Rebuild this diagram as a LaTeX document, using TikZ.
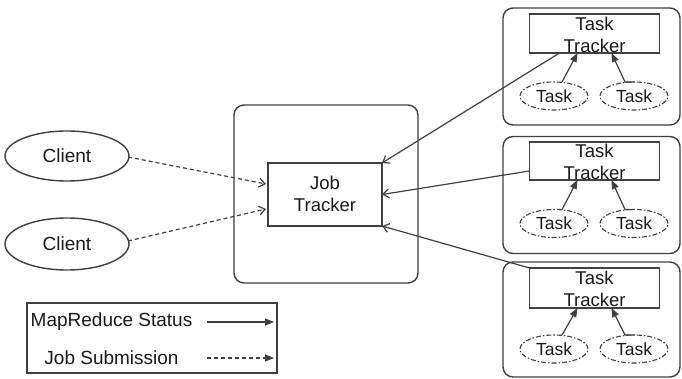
\documentclass[tikz,border=0pt]{standalone}
\usepackage{fontspec}
\setmainfont{Liberation Sans}
\usetikzlibrary{shapes.geometric,arrows.meta,calc}
\definecolor{ln}{HTML}{404040}
\definecolor{tx}{HTML}{1A1A1A}
\begin{document}
\begin{tikzpicture}[x=1pt,y=-1pt,
  every node/.style={text=tx, inner sep=0pt, outer sep=0pt},
  bigfont/.style={font=\fontsize{19}{22}\selectfont},
  trkfont/.style={font=\fontsize{18.5}{22}\selectfont, align=center},
  grp/.style={draw=ln, line width=1.4pt, rounded corners=10pt, rectangle},
  trkbox/.style={draw=ln, line width=1.4pt, rectangle},
  clientell/.style={draw=ln, line width=1.4pt, ellipse, minimum width=124pt, minimum height=50pt, bigfont},
  taskell/.style={draw=ln, line width=1.1pt, ellipse, dash pattern=on 5pt off 2pt on 1.5pt off 2pt,
     minimum width=68pt, minimum height=28pt, font=\fontsize{17.5}{20}\selectfont},
  status/.style={draw=ln, line width=1.2pt, -{Straight Barb[length=6pt,width=9pt]}},
  submit/.style={status, dash pattern=on 4pt off 3pt},
  taskarr/.style={draw=ln, line width=1.2pt, -{Triangle[length=9pt,width=7pt]}},
  legarr/.style={draw=ln, line width=1.2pt, -{Triangle[length=9pt,width=7pt]}},
]
\useasboundingbox (0,0) rectangle (682,379);

% Job tracker container
\node[grp, minimum width=184pt, minimum height=178pt] (jcont) at (326,194) {};
\node[trkbox, minimum width=114pt, minimum height=63pt] (jt) at (325,194.5) {};
\node[trkfont] (jtl) at (325,194) {Job\\Tracker};

% Clients
\node[clientell] (c1) at (67,156) {Client};
\node[clientell, minimum height=52pt] (c2) at (67,244) {Client};

% Task tracker groups
\node[grp, minimum width=177pt, minimum height=117pt] (g1) at (591.5,66.5) {};
\node[grp, minimum width=177pt, minimum height=117pt] (g2) at (591.5,195) {};
\node[grp, minimum width=177pt, minimum height=115pt] (g3) at (591.5,319.5) {};

\node[trkbox, minimum width=130pt, minimum height=39pt] (tt1) at (594.5,33.5) {};
\node[trkbox, minimum width=130pt, minimum height=38pt] (tt2) at (594.5,161) {};
\node[trkbox, minimum width=130pt, minimum height=40pt] (tt3) at (594.5,288) {};
\node[trkfont] (tt1l) at (594.5,35) {Task\\Tracker};
\node[trkfont] (tt2l) at (594.5,162) {Task\\Tracker};
\node[trkfont] (tt3l) at (594.5,289) {Task\\Tracker};

\node[taskell] (t1a) at (554,96) {Task};
\node[taskell] (t1b) at (634,96) {Task};
\node[taskell] (t2a) at (554,223.5) {Task};
\node[taskell] (t2b) at (634,223.5) {Task};
\node[taskell] (t3a) at (554,349) {Task};
\node[taskell] (t3b) at (634,349) {Task};

% Task -> Task tracker
\foreach \g in {1,2,3}{
  \draw[taskarr] ($(t\g a.north)+(8,0)$) -- ($(tt\g.south)+(-17,0)$);
  \draw[taskarr] (t\g b.north) -- ++(-9,0) -- ($(tt\g.south)+(17,0)$);
}

% Task trackers -> Job tracker
\draw[status] ($(tt1.south west)+(30,0)$) -- (jt.north east);
\draw[status] ($(tt2.west)+(0,10)$) -- (jt.east);
\draw[status] (tt3.north west) -- (jt.south east);

% Clients -> Job tracker
\draw[submit] ($(c1.east)+(-1,1)$) -- ($(jt.west)+(-2,-10.5)$);
\draw[submit] ($(c2.east)+(-1,-3)$) -- ($(jt.west)+(-2,14.5)$);

% Legend
\node[trkbox, minimum width=250pt, minimum height=70pt] (leg) at (152,338) {};
\node[bigfont] (l1) at (111.5,322) {MapReduce Status};
\node[bigfont] (l2) at (111.5,358) {Job Submission};
\coordinate (la1) at (207,322);
\coordinate (lb1) at (274,322);
\coordinate (la2) at (207,358);
\coordinate (lb2) at (274,358);
\draw[legarr] (la1) -- (lb1);
\draw[legarr, dash pattern=on 4pt off 3pt] (la2) -- (lb2);
\end{tikzpicture}
\end{document}
